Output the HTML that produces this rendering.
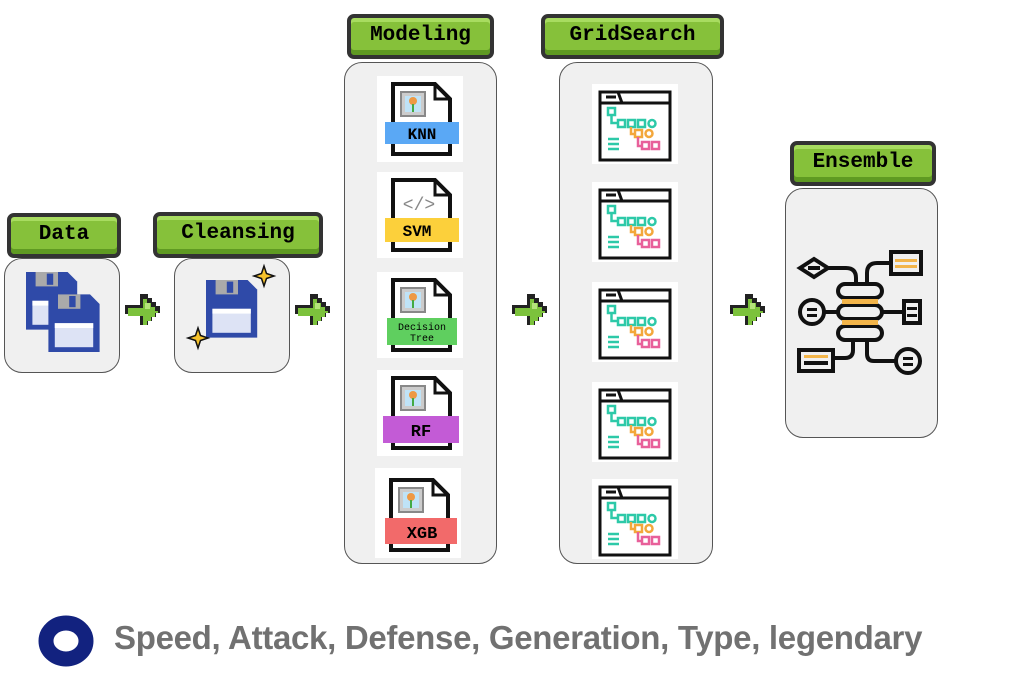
<!DOCTYPE html>
<html><head><meta charset="utf-8"><style>
body{margin:0;width:1030px;height:678px;background:#fff;position:relative;overflow:hidden;font-family:"Liberation Sans",sans-serif}
.a{position:absolute}
.lbl{position:absolute;background:#86c13a;border:4px solid #333;border-radius:7px;box-sizing:border-box;font-family:"Liberation Mono",monospace;font-weight:bold;font-size:21px;color:#000;text-align:center;line-height:36px;box-shadow:inset 0 -5px 0 #5f9a22, inset 0 4px 0 #a8dc60}
.box{position:absolute;background:#f0f0f0;border:1.5px solid #555;border-radius:18px;box-sizing:border-box}
</style></head><body>
<svg width="0" height="0" style="position:absolute">
<defs>
<g id="arr"><path d="M0 11h15v-11h8v4h4v4h4v4h4v7h-4v4h-4v4h-4v4h-8v-11h-15z" fill="#222"/><path d="M3 14h15v-9h4v4h4v4h4v4h3v2h-3v4h-4v4h-4v4h-4v-9h-15z" fill="#7cc23c"/><path d="M20 9h5v6h-5z" fill="#b4e47a"/></g>
<g id="doc"><path d="M16 8h42l15 15v55h-57z" fill="#fff" stroke="#111" stroke-width="4"/><path d="M58 8v15h15" fill="none" stroke="#111" stroke-width="3"/><rect x="24" y="16" width="24" height="24" fill="#ccc" stroke="#888" stroke-width="2"/><rect x="28" y="20" width="16" height="16" fill="#bfe3f7"/><circle cx="36" cy="25" r="4" fill="#e94"/><rect x="35" y="28" width="2" height="8" fill="#4a4"/></g>
<g id="grid"><rect x="8" y="8" width="70" height="68" fill="#fff" stroke="#111" stroke-width="3"/><path d="M8 19h70M14 13h10M26 8l4 11" stroke="#111" stroke-width="3" fill="none"/><g fill="none" stroke="#2dc9a8" stroke-width="2.5"><rect x="16" y="24" width="7" height="7"/><path d="M19.5 31v8h7"/><rect x="26" y="36" width="7" height="7"/><rect x="36" y="36" width="7" height="7"/><rect x="46" y="36" width="7" height="7"/><circle cx="60" cy="39.5" r="3.5"/><path d="M16 55h11M16 60h11M16 65h11"/></g><g fill="none" stroke="#f3a73b" stroke-width="2.5"><path d="M39 43v7h4"/><rect x="43" y="46" width="7" height="7"/><circle cx="57" cy="49.5" r="3.5"/></g><g fill="none" stroke="#e8609a" stroke-width="2.5"><path d="M46 53v9h4"/><rect x="50" y="58" width="7" height="7"/><rect x="60" y="58" width="7" height="7"/></g></g>
<g id="floppy"><path d="M0 0h26l6 6v30h-32z" fill="#2f4aa8"/><rect x="6" y="0" width="14" height="9" fill="#aaa"/><rect x="13" y="1" width="4" height="7" fill="#2f4aa8"/><rect x="4" y="18" width="24" height="15" fill="#dde3f5"/><rect x="4" y="18" width="24" height="3" fill="#fff"/></g>
<g id="star"><path d="M10 0l2.5 7.5 7.5 2.5-7.5 2.5-2.5 7.5-2.5-7.5-7.5-2.5 7.5-2.5z" fill="#f6c22b" stroke="#111" stroke-width="1.5"/></g>
</defs></svg>

<div class="lbl" style="left:7px;top:213px;width:114px;height:45px">Data</div>
<div class="box" style="left:4px;top:258px;width:116px;height:115px"></div>
<svg class="a" style="left:26px;top:272px" width="80" height="85"><g transform="scale(1.6)"><use href="#floppy" x="0" y="0"/><use href="#floppy" x="14" y="14"/></g></svg>

<div class="lbl" style="left:153px;top:212px;width:170px;height:46px">Cleansing</div>
<div class="box" style="left:174px;top:258px;width:116px;height:115px"></div>
<svg class="a" style="left:182px;top:262px" width="100" height="100"><g transform="translate(24,18) scale(1.6)"><use href="#floppy"/></g><use href="#star" x="72" y="4"/><use href="#star" x="6" y="66"/></svg>

<svg class="a" style="left:125px;top:294px" width="40" height="38"><use href="#arr"/></svg>
<svg class="a" style="left:295px;top:294px" width="40" height="38"><use href="#arr"/></svg>
<svg class="a" style="left:512px;top:294px" width="40" height="38"><use href="#arr"/></svg>
<svg class="a" style="left:730px;top:294px" width="40" height="38"><use href="#arr"/></svg>

<div class="lbl" style="left:347px;top:14px;width:147px;height:45px">Modeling</div>
<div class="box" style="left:344px;top:62px;width:153px;height:502px"></div>
<div class="lbl" style="left:541px;top:14px;width:183px;height:45px">GridSearch</div>
<div class="box" style="left:559px;top:62px;width:154px;height:502px"></div>
<div class="lbl" style="left:790px;top:141px;width:146px;height:45px">Ensemble</div>
<div class="box" style="left:785px;top:188px;width:153px;height:250px"></div>

<svg class="a" style="left:377px;top:76px" width="86" height="86"><rect width="86" height="86" fill="#fff"/><use href="#doc"/><rect x="8" y="46" width="74" height="22" fill="#5aa8f5"/><text x="45" y="63" text-anchor="middle" font-family="Liberation Mono,monospace" font-weight="bold" font-size="16">KNN</text></svg>
<svg class="a" style="left:377px;top:172px" width="86" height="86"><rect width="86" height="86" fill="#fff"/><path d="M16 8h42l15 15v55h-57z" fill="#fff" stroke="#111" stroke-width="4"/><path d="M58 8v15h15" fill="none" stroke="#111" stroke-width="3"/><text x="42" y="38" text-anchor="middle" font-family="Liberation Mono,monospace" font-size="18" fill="#888">&lt;/&gt;</text><rect x="8" y="46" width="74" height="24" fill="#fcd03b"/><text x="40" y="64" text-anchor="middle" font-family="Liberation Mono,monospace" font-weight="bold" font-size="16">SVM</text></svg>
<svg class="a" style="left:377px;top:272px" width="86" height="86"><rect width="86" height="86" fill="#fff"/><use href="#doc"/><rect x="10" y="46" width="70" height="27" fill="#5fcf5f"/><text x="45" y="58" text-anchor="middle" font-family="Liberation Mono,monospace" font-size="10">Decision</text><text x="45" y="69" text-anchor="middle" font-family="Liberation Mono,monospace" font-size="10">Tree</text></svg>
<svg class="a" style="left:377px;top:370px" width="86" height="86"><rect width="86" height="86" fill="#fff"/><use href="#doc"/><rect x="6" y="46" width="76" height="27" fill="#c35bd6"/><text x="44" y="66" text-anchor="middle" font-family="Liberation Mono,monospace" font-weight="bold" font-size="17">RF</text></svg>
<svg class="a" style="left:375px;top:468px" width="86" height="90"><rect width="86" height="90" fill="#fff"/><use href="#doc" y="4"/><rect x="10" y="50" width="72" height="26" fill="#f26a6a"/><text x="47" y="70" text-anchor="middle" font-family="Liberation Mono,monospace" font-weight="bold" font-size="17">XGB</text></svg>

<svg class="a" style="left:592px;top:84px" width="86" height="80"><rect width="86" height="80" fill="#fff"/><use href="#grid"/></svg>
<svg class="a" style="left:592px;top:182px" width="86" height="80"><rect width="86" height="80" fill="#fff"/><use href="#grid"/></svg>
<svg class="a" style="left:592px;top:282px" width="86" height="80"><rect width="86" height="80" fill="#fff"/><use href="#grid"/></svg>
<svg class="a" style="left:592px;top:382px" width="86" height="80"><rect width="86" height="80" fill="#fff"/><use href="#grid"/></svg>
<svg class="a" style="left:592px;top:479px" width="86" height="80"><rect width="86" height="80" fill="#fff"/><use href="#grid"/></svg>

<svg class="a" style="left:795px;top:248px" width="135" height="130">
<g fill="none" stroke="#111" stroke-width="4">
<path d="M5 20l14-9 14 9-14 9z"/><path d="M33 20h18q10 0 10 10v6"/>
<rect x="96" y="4" width="30" height="22"/><path d="M96 15h-14q-10 0-10 10v11"/>
<rect x="43" y="36" width="44" height="14" rx="7"/><rect x="43" y="57" width="44" height="14" rx="7"/><rect x="43" y="78" width="44" height="14" rx="7"/>
<circle cx="17" cy="64" r="12"/><path d="M29 64h14M87 64h22"/><rect x="109" y="53" width="16" height="22"/>
<rect x="4" y="102" width="34" height="21"/><path d="M38 110h12q8 0 8-8v-10"/>
<circle cx="113" cy="113" r="12"/><path d="M72 92v14q0 7 7 7h22"/>
</g>
<g fill="#f3b54a"><rect x="100" y="11" width="22" height="3"/><rect x="100" y="17" width="22" height="3"/><rect x="47" y="51" width="36" height="5"/><rect x="47" y="72" width="36" height="5"/><rect x="9" y="107" width="24" height="3"/></g>
<g fill="#111"><rect x="13" y="18" width="12" height="4"/><rect x="12" y="60" width="10" height="3"/><rect x="12" y="66" width="10" height="3"/><rect x="112" y="59" width="10" height="3"/><rect x="112" y="66" width="10" height="3"/><rect x="108" y="109" width="10" height="3"/><rect x="108" y="115" width="10" height="3"/><rect x="9" y="113" width="24" height="4"/></g>
</svg>

<svg class="a" style="left:38px;top:614px" width="58" height="54"><ellipse cx="28" cy="27" rx="20" ry="18" fill="none" stroke="#12227f" stroke-width="15"/></svg>
<div class="a" style="left:114px;top:619px;font-size:33px;font-weight:bold;color:#717171;white-space:nowrap;letter-spacing:-0.3px">Speed, Attack, Defense, Generation, Type, legendary</div>
</body></html>
